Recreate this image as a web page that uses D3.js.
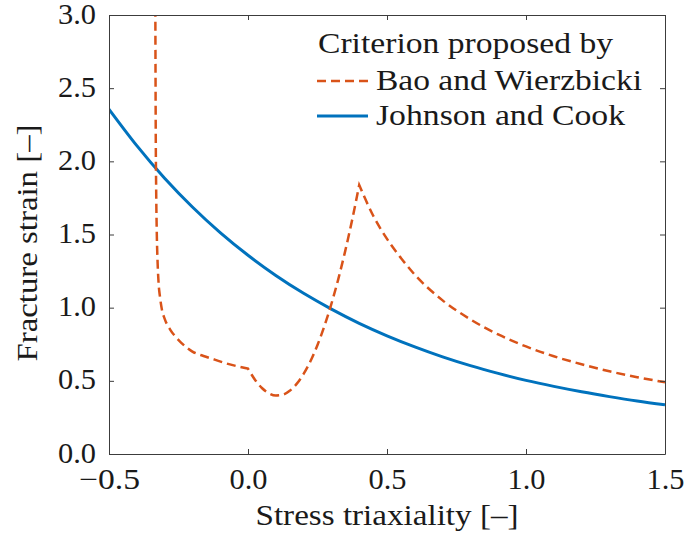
<!DOCTYPE html>
<html>
<head>
<meta charset="utf-8">
<script src="https://cdn.jsdelivr.net/npm/d3@7/dist/d3.min.js"></script>
<style>
  body { margin: 0; background: #ffffff; }
  svg text { font-family: 'Liberation Serif', 'DejaVu Serif', serif; fill: #1a1a1a; }
</style>
</head>
<body>
<svg id="chart" width="686" height="540"></svg>
<script>
// Johnson–Cook fracture locus
const triaxJC  = [-0.5, -0.4, -0.3, -0.2, -0.1, 0.0, 0.1, 0.2, 0.3, 0.4, 0.5, 0.6, 0.7, 0.8, 0.9, 1.0, 1.1, 1.2, 1.3, 1.4, 1.5];
const strainJC = [2.356, 2.107, 1.885, 1.688, 1.513, 1.358, 1.220, 1.098, 0.990, 0.893, 0.808, 0.732, 0.664, 0.604, 0.551, 0.503, 0.462, 0.425, 0.392, 0.362, 0.336];

// Bao–Wierzbicki fracture locus, three branches
const triaxBWcomp  = [-0.3333, -0.3320, -0.3300, -0.3280, -0.3250, -0.3214, -0.3170, -0.3100, -0.3000, -0.2800, -0.2600, -0.2400, -0.2000, -0.1600, -0.1200, -0.0800, -0.0400, 0.0];
const strainBWcomp = [3.05, 2.25, 1.75, 1.50, 1.30, 1.16, 1.08, 0.99, 0.925, 0.85, 0.80, 0.76, 0.70, 0.67, 0.645, 0.62, 0.60, 0.583];
const triaxBWshear  = [0.0, 0.025, 0.05, 0.075, 0.1, 0.125, 0.15, 0.175, 0.2, 0.225, 0.25, 0.275, 0.3, 0.325, 0.35, 0.375, 0.4];
const strainBWshear = [0.583, 0.508, 0.451, 0.415, 0.400, 0.405, 0.432, 0.479, 0.547, 0.635, 0.745, 0.875, 1.026, 1.197, 1.39, 1.603, 1.838];
const triaxBWtens  = [0.4, 0.45, 0.5, 0.55, 0.6, 0.7, 0.8, 0.9, 1.0, 1.1, 1.2, 1.3, 1.4, 1.5];
const strainBWtens = [1.838, 1.63, 1.47, 1.34, 1.225, 1.05, 0.92, 0.817, 0.735, 0.668, 0.613, 0.565, 0.525, 0.49];

const xTickValues = [-0.5, 0.0, 0.5, 1.0, 1.5];
const xTickLabels = ["\u22120.5", "0.0", "0.5", "1.0", "1.5"];
const yTickValues = [0.0, 0.5, 1.0, 1.5, 2.0, 2.5, 3.0];
const yTickLabels = ["0.0", "0.5", "1.0", "1.5", "2.0", "2.5", "3.0"];

const legendTitle = "Criterion proposed by";
const seriesNames = ["Bao and Wierzbicki", "Johnson and Cook"];
const xTitle = "Stress triaxiality [\u2013]";
const yTitle = "Fracture strain [\u2013]";

const colBW = "#D95319";
const colJC = "#0072BD";
const axisCol = "#3c3c3c";
const serif = "'Liberation Serif', 'DejaVu Serif', serif";

const svg = d3.select("#chart");
const plotL = 109, plotR = 665, plotT = 15, plotB = 454;

const x = d3.scaleLinear().domain([-0.5, 1.5]).range([plotL, plotR]);
const y = d3.scaleLinear().domain([0, 3]).range([plotB, plotT]);

// widen the serif text to Computer-Modern-like proportions
function fit(sel, w) {
  sel.attr("textLength", w).attr("lengthAdjust", "spacingAndGlyphs")
     .style("font-family", serif);
}

svg.append("clipPath").attr("id", "plotclip")
  .append("rect").attr("x", plotL).attr("y", plotT)
  .attr("width", plotR - plotL).attr("height", plotB - plotT);

// curves
const plot = svg.append("g").attr("clip-path", "url(#plotclip)");

function seg(xs, ys, curve) {
  return d3.line()
    .x((d, i) => x(xs[i]))
    .y((d, i) => y(ys[i]))
    .curve(curve)(xs);
}

plot.append("path")
  .attr("d", seg(triaxJC, strainJC, d3.curveNatural))
  .attr("fill", "none").attr("stroke", colJC).attr("stroke-width", 3);

// join the three branches into one path so the dash pattern runs on
const bwPath = seg(triaxBWcomp, strainBWcomp, d3.curveMonotoneX)
  + seg(triaxBWshear, strainBWshear, d3.curveMonotoneX).replace(/^M/, "L")
  + seg(triaxBWtens, strainBWtens, d3.curveMonotoneX).replace(/^M/, "L");

plot.append("path")
  .attr("d", bwPath)
  .attr("fill", "none").attr("stroke", colBW).attr("stroke-width", 2.5)
  .attr("stroke-dasharray", "9,5");

// axes box with inward ticks on all sides
const fs = 29;
const ax = svg.append("g");
const xb = ax.append("g").attr("transform", `translate(0,${plotB})`)
  .call(d3.axisBottom(x).tickValues(xTickValues)
    .tickFormat((d, i) => xTickLabels[i]).tickSizeInner(-5).tickSizeOuter(0).tickPadding(14));
ax.append("g").attr("transform", `translate(0,${plotT})`)
  .call(d3.axisTop(x).tickValues(xTickValues).tickFormat("").tickSizeInner(-5).tickSizeOuter(0));
const yl = ax.append("g").attr("transform", `translate(${plotL},0)`)
  .call(d3.axisLeft(y).tickValues(yTickValues)
    .tickFormat((d, i) => yTickLabels[i]).tickSizeInner(-5).tickSizeOuter(0).tickPadding(13));
ax.append("g").attr("transform", `translate(${plotR},0)`)
  .call(d3.axisRight(y).tickValues(yTickValues).tickFormat("").tickSizeInner(-5).tickSizeOuter(0));

ax.selectAll("path.domain").attr("stroke", axisCol).attr("stroke-width", 1);
ax.selectAll(".tick line").attr("stroke", axisCol).attr("stroke-width", 1);
ax.selectAll(".tick text").attr("font-size", fs).attr("fill", "#1a1a1a");

xb.selectAll(".tick text").each(function (d, i) {
  fit(d3.select(this), xTickLabels[i].length === 4 ? 61 : 38);
});
yl.selectAll(".tick text").attr("dy", "0.28em").each(function () {
  fit(d3.select(this), 38);
});

// axis titles
const xLab = svg.append("text")
  .attr("x", (plotL + plotR) / 2).attr("y", 525)
  .attr("text-anchor", "middle").attr("font-size", fs + 1)
  .text(xTitle);
fit(xLab, 263);

const yLab = svg.append("text")
  .attr("transform", `translate(37,243) rotate(-90)`)
  .attr("text-anchor", "middle").attr("font-size", fs + 1)
  .text(yTitle);
fit(yLab, 237);

// legend
const lg = svg.append("g");
const tTitle = lg.append("text").attr("x", 318).attr("y", 53).attr("font-size", fs + 1).text(legendTitle);
fit(tTitle, 295);

const legendItems = [
  { name: seriesNames[0], color: colBW, dash: "9,5", width: 2.5, ty: 90, ly: 81, w: 266 },
  { name: seriesNames[1], color: colJC, dash: null, width: 3, ty: 125, ly: 116, w: 249 }
];
legendItems.forEach(it => {
  lg.append("line").attr("x1", 317).attr("x2", 368).attr("y1", it.ly).attr("y2", it.ly)
    .attr("stroke", it.color).attr("stroke-width", it.width)
    .attr("stroke-dasharray", it.dash);
  const t = lg.append("text").attr("x", 376).attr("y", it.ty).attr("font-size", fs + 1).text(it.name);
  fit(t, it.w);
});
</script>
</body>
</html>
